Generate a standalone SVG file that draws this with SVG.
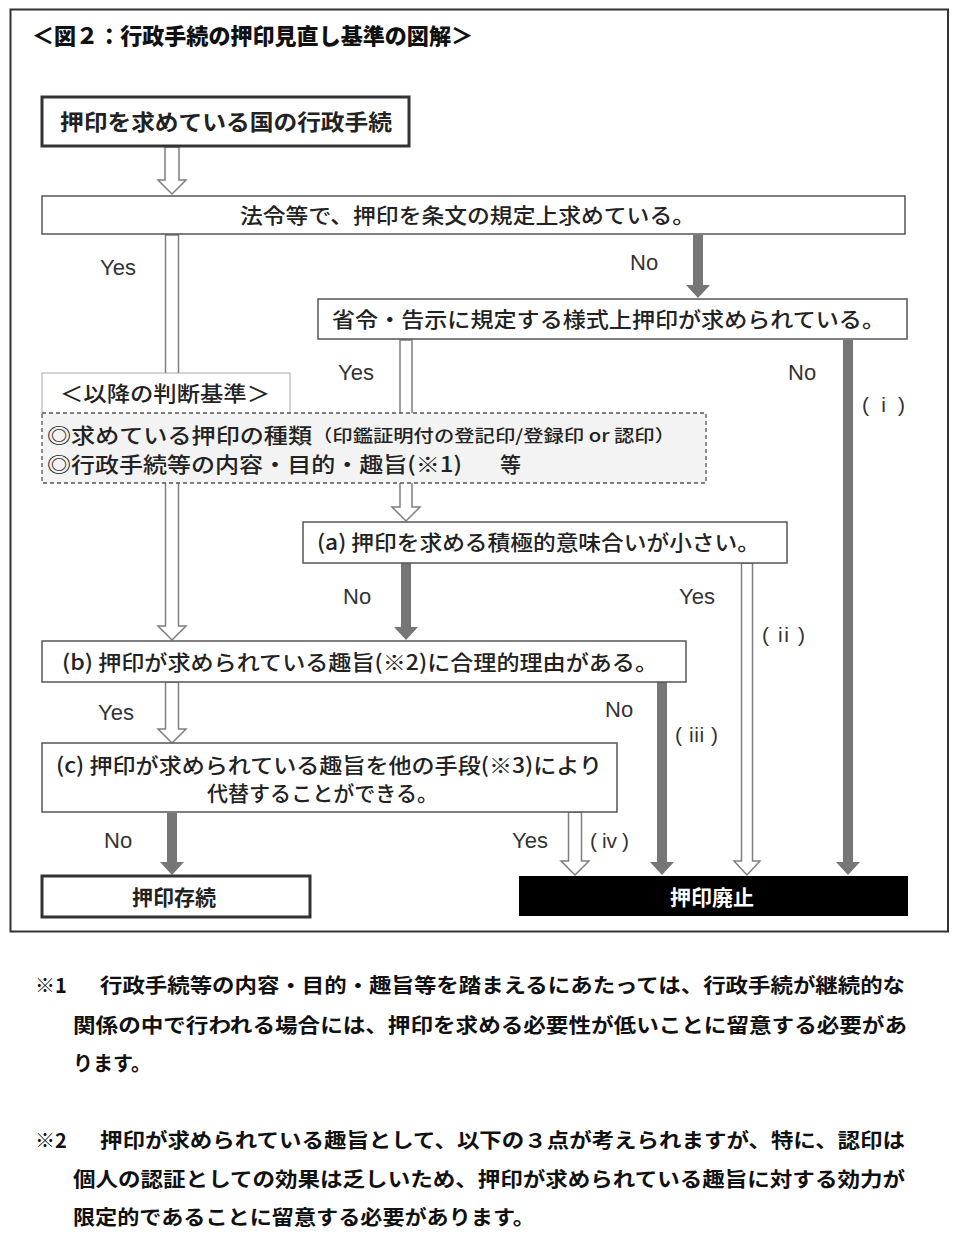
<svg xmlns="http://www.w3.org/2000/svg" width="960" height="1247" viewBox="0 0 960 1247">
<style>
.jp{font-family:"Noto Sans CJK JP","Noto Sans CJK SC",sans-serif;fill:#222;font-weight:500}
.b{font-weight:bold}
.lat{font-family:"Liberation Sans",Arial,sans-serif;font-size:22px;fill:#333}
.rom{font-family:"Liberation Sans",Arial,sans-serif;font-size:21px;fill:#333}
.box{fill:#fff;stroke:#555;stroke-width:1.5}
.thick{fill:#fff;stroke:#333;stroke-width:3}
.hollow{fill:#fff;stroke:#7f7f7f;stroke-width:1.5;stroke-linejoin:miter}
.solid{fill:#767676;stroke:none}
.note{font-family:"Noto Sans CJK JP","Noto Sans CJK SC",sans-serif;font-weight:bold;font-size:20px;fill:#111}
</style>
<rect x="0" y="0" width="960" height="1247" fill="#fff"/>
<rect x="10.5" y="9.5" width="937.5" height="922" fill="#fff" stroke="#333" stroke-width="2"/>
<text class="jp" x="32" y="44" font-size="22" font-weight="900" textLength="441" lengthAdjust="spacingAndGlyphs" style="fill:#111;font-weight:900">＜図２：行政手続の押印見直し基準の図解＞</text>

<g id="connectors">
<path class="hollow" d="M165,147 V180 H158 L172,194 L186,180 H179 V147 Z"/>
<path class="hollow" d="M165.5,235 V626 H158 L172,640 L186,626 H178.5 V235 Z"/>
<path class="solid" d="M693,235 V285 H686 L698,298 L710,285 H703 V235 Z"/>
<path class="hollow" d="M400,340 V507 H392 L406,521 L420,507 H412 V340 Z"/>
<path class="solid" d="M843,340 V862 H836 L848,875 L860,862 H853 V340 Z"/>
<path class="solid" d="M401,563 V627 H394 L406,640 L418,627 H411 V563 Z"/>
<path class="hollow" d="M741.5,563 V861 H734 L747,875 L760,861 H752.5 V563 Z"/>
<path class="solid" d="M657,682 V862 H650 L662,875 L674,862 H667 V682 Z"/>
<path class="hollow" d="M165.5,682 V729 H158 L172,743 L186,729 H178.5 V682 Z"/>
<path class="solid" d="M167,813 V862 H160 L172,875 L184,862 H177 V813 Z"/>
<path class="hollow" d="M568.5,812 V861 H561 L575,875 L589,861 H581.5 V812 Z"/>
<text class="lat" x="100" y="275">Yes</text>
<text class="lat" x="630" y="270">No</text>
<text class="lat" x="338" y="380">Yes</text>
<text class="lat" x="788" y="380">No</text>
<text class="rom" x="862" y="412" textLength="43" lengthAdjust="spacing">( i )</text>
<text class="lat" x="343" y="604">No</text>
<text class="lat" x="679" y="604">Yes</text>
<text class="rom" x="762" y="642" textLength="43" lengthAdjust="spacing">( ii )</text>
<text class="lat" x="605" y="717">No</text>
<text class="rom" x="675" y="742" textLength="43" lengthAdjust="spacing">( iii )</text>
<text class="lat" x="98" y="720">Yes</text>
<text class="lat" x="104" y="848">No</text>
<text class="lat" x="512" y="848">Yes</text>
<text class="rom" x="590" y="848" textLength="39" lengthAdjust="spacing">( iv )</text>
</g>

<g id="n-start">
<rect class="thick" x="42" y="97" width="367" height="49"/>
<text class="jp b" x="60" y="130" font-size="22" textLength="332" lengthAdjust="spacingAndGlyphs">押印を求めている国の行政手続</text>
</g>

<g id="n-law">
<rect class="box" x="42" y="196" width="863" height="38"/>
<text class="jp" x="240" y="223" font-size="21" textLength="455" lengthAdjust="spacingAndGlyphs">法令等で、押印を条文の規定上求めている。</text>
</g>

<g id="n-ordinance">
<rect class="box" x="318" y="299" width="589" height="40"/>
<text class="jp" x="332" y="327" font-size="21" textLength="553" lengthAdjust="spacingAndGlyphs">省令・告示に規定する様式上押印が求められている。</text>
</g>

<g id="n-criteria-title">
<rect x="42" y="373" width="248" height="41" fill="#fff" stroke="#aaa" stroke-width="1"/>
<text class="jp" x="60" y="401" font-size="21" textLength="210" lengthAdjust="spacingAndGlyphs">＜以降の判断基準＞</text>
</g>

<g id="n-criteria">
<rect x="42" y="413" width="664" height="70" fill="#f3f3f3" stroke="#555" stroke-width="1.3" stroke-dasharray="4,3"/>
<text class="jp" x="47" y="443" font-size="21" textLength="265" lengthAdjust="spacingAndGlyphs">◎求めている押印の種類</text>
<text class="jp" x="312" y="442" font-size="17" textLength="363" lengthAdjust="spacingAndGlyphs">（印鑑証明付の登記印/登録印 or 認印）</text>
<text class="jp" x="47" y="472" font-size="21" textLength="415" lengthAdjust="spacingAndGlyphs">◎行政手続等の内容・目的・趣旨(※1)</text>
<text class="jp" x="500" y="472" font-size="21">等</text>
</g>

<g id="n-a">
<rect class="box" x="303" y="522" width="484" height="41"/>
<text class="jp" x="317" y="550" font-size="21" textLength="443" lengthAdjust="spacingAndGlyphs">(a) 押印を求める積極的意味合いが小さい。</text>
</g>

<g id="n-b">
<rect class="box" x="42" y="641" width="644" height="41"/>
<text class="jp" x="62" y="670" font-size="21" textLength="596" lengthAdjust="spacingAndGlyphs">(b) 押印が求められている趣旨(※2)に合理的理由がある。</text>
</g>

<g id="n-c">
<rect class="box" x="42" y="743" width="575" height="69"/>
<text class="jp" x="56" y="773" font-size="21" textLength="546" lengthAdjust="spacingAndGlyphs">(c) 押印が求められている趣旨を他の手段(※3)により</text>
<text class="jp" x="207" y="801" font-size="21" textLength="231" lengthAdjust="spacingAndGlyphs">代替することができる。</text>
</g>

<g id="n-keep">
<rect class="thick" x="42" y="876" width="268" height="41"/>
<text class="jp b" x="174" y="905" font-size="21" text-anchor="middle">押印存続</text>
</g>

<g id="n-abolish">
<rect x="519" y="876" width="389" height="40" fill="#000"/>
<text class="jp b" x="712" y="905" font-size="21" text-anchor="middle" style="fill:#fff">押印廃止</text>
</g>

<g id="notes">
<text class="note" x="35" y="993">※1</text>
<text class="note" x="100" y="993" textLength="805" lengthAdjust="spacingAndGlyphs">行政手続等の内容・目的・趣旨等を踏まえるにあたっては、行政手続が継続的な</text>
<text class="note" x="73" y="1033" textLength="834" lengthAdjust="spacingAndGlyphs">関係の中で行われる場合には、押印を求める必要性が低いことに留意する必要があ</text>
<text class="note" x="73" y="1071" textLength="78" lengthAdjust="spacingAndGlyphs">ります。</text>
<text class="note" x="35" y="1148">※2</text>
<text class="note" x="100" y="1148" textLength="805" lengthAdjust="spacingAndGlyphs">押印が求められている趣旨として、以下の３点が考えられますが、特に、認印は</text>
<text class="note" x="73" y="1187" textLength="832" lengthAdjust="spacingAndGlyphs">個人の認証としての効果は乏しいため、押印が求められている趣旨に対する効力が</text>
<text class="note" x="73" y="1225" textLength="462" lengthAdjust="spacingAndGlyphs">限定的であることに留意する必要があります。</text>
</g>
</svg>
